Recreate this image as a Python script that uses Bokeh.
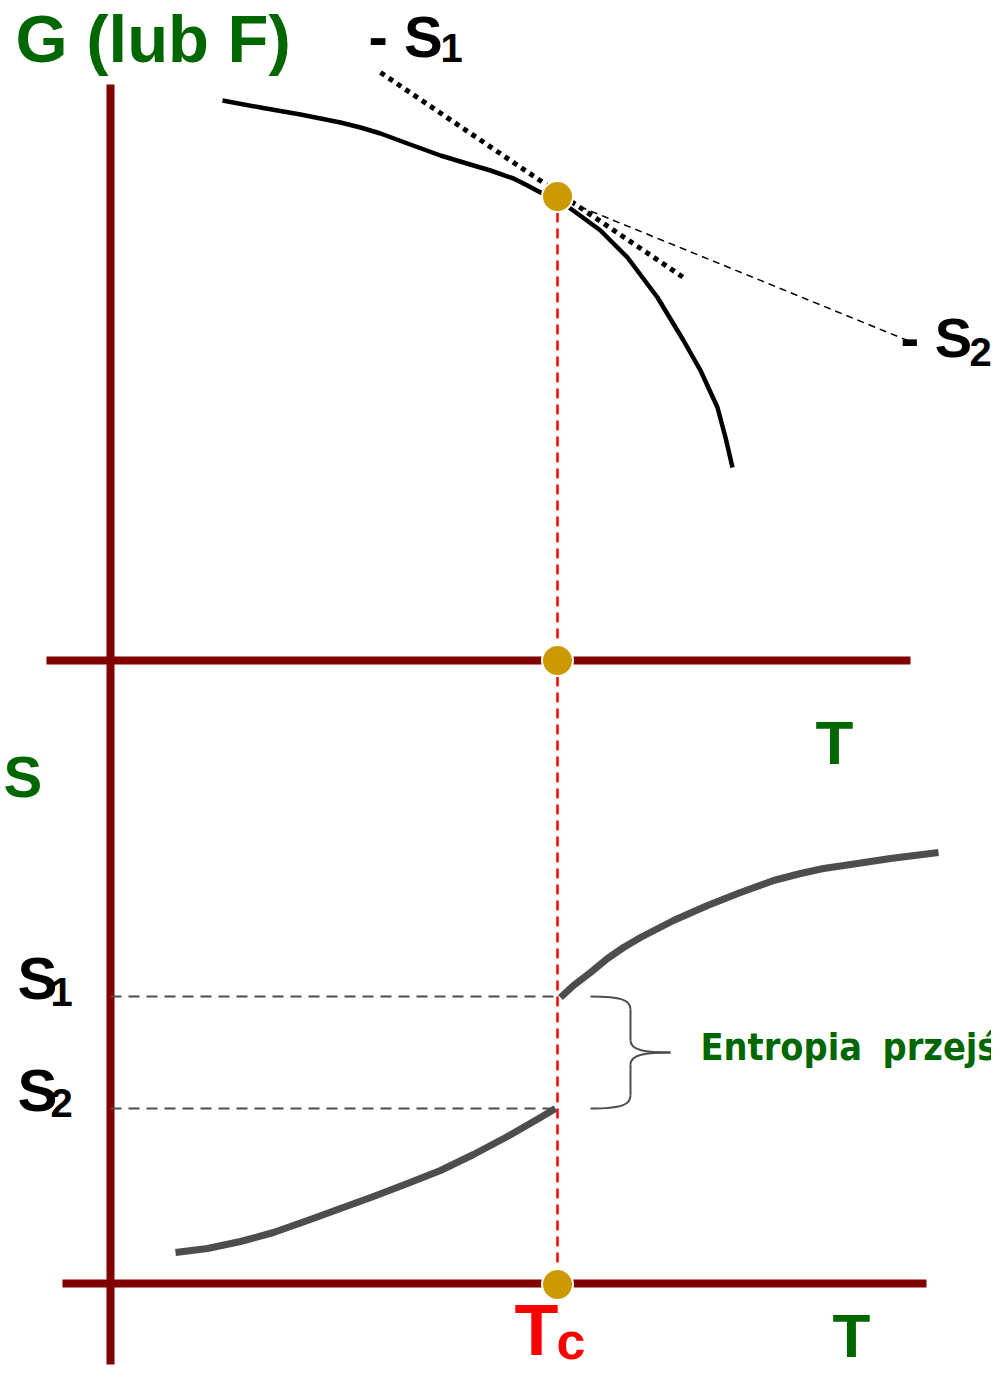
from bokeh.plotting import figure
from bokeh.models import Range1d
from bokeh.core.properties import value
from bokeh.embed import file_html
from bokeh.resources import INLINE

# ---- data (diagram space: T to the right, G / S downward in page units) ----
Tc = 557
S1_val = 996
S2_val = 1108

# G(T) curve: low-temperature branch and high-temperature branch
g_low_T = [222, 260, 300, 340, 360, 380, 407, 440, 473, 490, 513, 527, 540, 557]
g_low_G = [100, 107, 114, 122, 127, 133, 143, 155, 165, 170, 178, 185, 192, 197]
g_high_T = [557, 570, 600, 627, 657, 683, 700, 717, 725, 732]
g_high_G = [197, 208, 230, 257, 297, 340, 370, 407, 437, 467]

# tangents (slopes -S1 and -S2)
tan1_T = [380, 683]
tan1_G = [72, 277]
tan2_T = [557, 912]
tan2_G = [197, 342]

# S(T) curve: two branches with a jump at Tc
s_low_T = [175, 207, 240, 273, 307, 340, 373, 407, 440, 473, 507, 540, 555]
s_low_S = [1252, 1248, 1241, 1232, 1220, 1208, 1196, 1183, 1170, 1154, 1136, 1117, 1108]
s_high_T = [560, 573, 590, 607, 623, 640, 673, 707, 740, 773, 800, 823, 857, 890, 938]
s_high_S = [997, 985, 972, 958, 947, 937, 920, 905, 892, 880, 873, 868, 863, 858, 852]

# axes
vaxis_T = [110, 110]
vaxis_Y = [84, 1364]
haxis1_T = [46, 910]
haxis1_Y = [660, 660]
haxis2_T = [62, 926]
haxis2_Y = [1283, 1283]
dots_T = [Tc, Tc, Tc]
dots_Y = [196, 660, 1284]

MAROON = "#800000"
GREEN = "#006600"
GOLD = "#CC9900"
GREY = "#4d4d4d"
FONT = value("Liberation Sans")

W, H = 991, 1372
p = figure(width=W, height=H, x_range=Range1d(0, W), y_range=Range1d(H, 0),
           output_backend="svg", toolbar_location=None, min_border=0,
           x_axis_type=None, y_axis_type=None)
p.grid.visible = False
p.outline_line_color = None
p.background_fill_color = "white"

# axes lines
p.line(vaxis_T, vaxis_Y, line_color=MAROON, line_width=8, line_cap="butt")
p.line(haxis1_T, haxis1_Y, line_color=MAROON, line_width=8, line_cap="butt")
p.line(haxis2_T, haxis2_Y, line_color=MAROON, line_width=8, line_cap="butt")

# red dashed Tc line
p.line([Tc, Tc], [dots_Y[0], dots_Y[2]], line_color="#FF0000", line_width=2.5,
       line_dash="10 6")

# grey dashed S1 / S2 levels
p.line([vaxis_T[0], Tc], [S1_val, S1_val], line_color=GREY, line_width=2, line_dash="11 7")
p.line([vaxis_T[0], Tc], [S2_val, S2_val], line_color=GREY, line_width=2, line_dash="11 7")

# brace
bx = 590
bm = 630
bt = 670
mid = (S1_val + S2_val) / 2
p.bezier(x0=[bx, bm, bt, bm], y0=[S1_val, mid - 12, mid, S2_val - 13],
         x1=[bm, bt, bm, bx], y1=[S1_val + 13, mid, mid + 12, S2_val],
         cx0=[bx + 32, bm, bt - 25, bm], cy0=[S1_val, mid - 2, mid, S2_val - 4],
         cx1=[bm, bt - 25, bm, bx + 32], cy1=[S1_val + 4, mid, mid + 2, S2_val],
         line_color=GREY, line_width=2)
p.line([bm, bm], [S1_val + 13, mid - 12], line_color=GREY, line_width=2)
p.line([bm, bm], [mid + 12, S2_val - 13], line_color=GREY, line_width=2)

# tangents
p.line(tan2_T, tan2_G, line_color="black", line_width=1.5, line_dash="7 5")
p.line(tan1_T, tan1_G, line_color="black", line_width=5, line_dash="5 5", line_cap="butt")

# G curve
p.line(g_low_T, g_low_G, line_color="black", line_width=4.5, line_join="round")
p.line(g_high_T, g_high_G, line_color="black", line_width=4.5, line_join="round")

# S curve
p.line(s_low_T, s_low_S, line_color=GREY, line_width=7, line_join="round")
p.line(s_high_T, s_high_S, line_color=GREY, line_width=7, line_join="round")

# dots
p.scatter(dots_T, dots_Y, size=31, fill_color=GOLD, line_color="white", line_width=2)

BASE_SHIFT = 0.37  # compensates baseline offset of svg text


def label(x, y, txt, size, color, font=FONT):
    p.text(x=[x], y=[y - BASE_SHIFT * size], text=[txt], text_font=font,
           text_font_style="bold", text_font_size=value(f"{size}px"), text_color=color,
           text_baseline="alphabetic", text_align="left")


label(15, 63, "G (lub F)", 67, GREEN)
label(368, 57, "- S", 58, "black")
label(440, 62, "1", 40, "black")
label(900, 358, "- S", 56, "black")
label(969, 366, "2", 40, "black")
label(3, 797, "S", 58, GREEN)
label(815, 765, "T", 62, GREEN)
label(832, 1358, "T", 62, GREEN)
label(17, 1000, "S", 60, "black")
label(50, 1006, "1", 40, "black")
label(17, 1112, "S", 60, "black")
label(50, 1117, "2", 40, "black")
label(514, 1356, "T", 72, "#FF0000")
label(556, 1360, "c", 52, "#FF0000")
label(700, 1060, "Entropia", 37.5, GREEN, font=value("DejaVu Sans Condensed"))
label(882, 1060, "przejścia", 37.5, GREEN, font=value("DejaVu Sans Condensed"))

open("out.html", "w").write(file_html(p, INLINE))
